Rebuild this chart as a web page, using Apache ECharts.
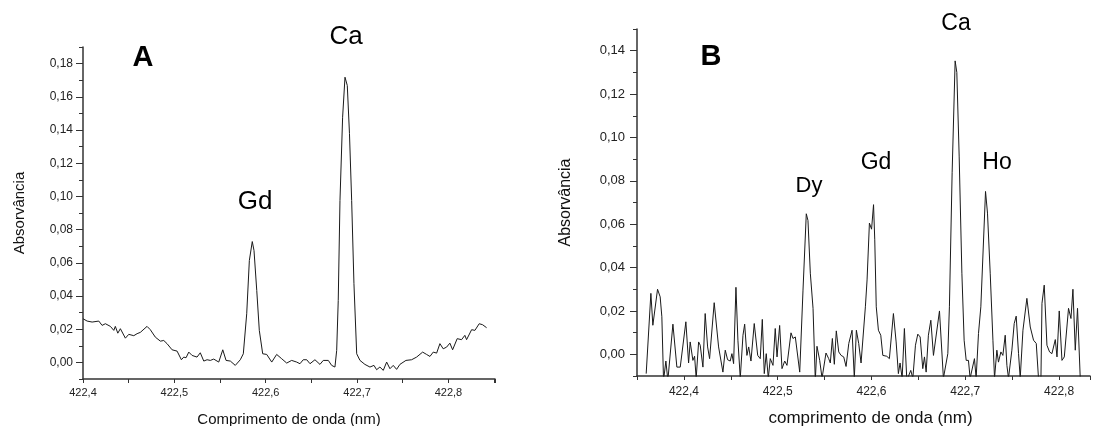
<!DOCTYPE html>
<html>
<head>
<meta charset="utf-8">
<script src="https://cdn.jsdelivr.net/npm/echarts@6/dist/echarts.min.js"></script>
<style>
html,body{margin:0;padding:0;background:#fff;}
#chart{width:1094px;height:426px;}
</style>
</head>
<body>
<div id="chart"></div>
<script>
// ---------- Panel A data ----------
const aWave = [422.400,422.4045,422.410,422.4173,422.4209,422.4245,422.430,422.4337,422.4354,422.4381,422.4409,422.4464,422.4501,422.4556,422.4592,422.4628,422.4647,422.4701,422.4737,422.4792,422.4847,422.4884,422.4920,422.4975,422.5030,422.5077,422.5103,422.5128,422.5158,422.5194,422.5248,422.5284,422.5322,422.5358,422.5394,422.5431,422.5486,422.5530,422.5566,422.5613,422.5667,422.5722,422.5755,422.5792,422.5821,422.5853,422.5872,422.5902,422.5930,422.5967,422.6011,422.6066,422.6120,422.6175,422.6230,422.6284,422.6339,422.6375,422.6411,422.6449,422.6485,422.6539,422.6594,422.6630,422.6685,422.6722,422.6758,422.6777,422.6794,422.6813,422.6842,422.6868,422.6893,422.6917,422.6941,422.6966,422.6996,422.7032,422.7086,422.7141,422.7185,422.7214,422.7250,422.7287,422.7324,422.7360,422.7396,422.7433,422.7469,422.7535,422.7597,422.7652,422.7718,422.7761,422.7798,422.7834,422.7871,422.7907,422.7943,422.7980,422.8016,422.8046,422.8096,422.8144,422.8180,422.8199,422.8254,422.8290,422.8337,422.8374,422.8418];
const aAbs = [0.0263,0.0249,0.0243,0.0249,0.0223,0.0233,0.0217,0.0193,0.0217,0.0176,0.0203,0.0146,0.0169,0.0161,0.0173,0.0181,0.0176,0.0217,0.0197,0.0152,0.0128,0.0132,0.0113,0.0076,0.0068,0.0016,0.0032,0.0028,0.0062,0.0042,0.0032,0.0058,0.0008,0.0016,0.0012,0.0020,0.0002,0.0076,0.0012,0.0008,-0.0018,0.0016,0.0052,0.0293,0.0614,0.0728,0.0674,0.0433,0.0193,0.0052,0.0048,0.0002,0.0048,0.0022,-0.0004,0.0012,0.0002,-0.0008,0.0016,0.0016,-0.0008,0.0016,-0.0012,0.0012,0.0012,-0.0018,-0.0028,0.0072,0.0373,0.0975,0.1477,0.1718,0.1668,0.1378,0.0975,0.0474,0.0052,0.0012,-0.0012,-0.0028,-0.0018,-0.0044,-0.0028,-0.0048,0.0002,-0.0038,-0.0018,-0.0042,-0.0012,0.0012,0.0016,0.0032,0.0062,0.0048,0.0036,0.0062,0.0056,0.0113,0.0082,0.0092,0.0116,0.0076,0.0143,0.0137,0.0163,0.0137,0.0197,0.0193,0.0233,0.0227,0.0209];

// ---------- Panel B data ----------
const bWave = [422.3598,422.3648,422.3669,422.3719,422.3747,422.3765,422.3783,422.3808,422.3829,422.3883,422.3925,422.3961,422.4021,422.4050,422.4067,422.4096,422.4114,422.4131,422.4157,422.4174,422.4203,422.4227,422.4253,422.4274,422.4323,422.4370,422.4416,422.4441,422.4466,422.4494,422.4512,422.4530,422.4555,422.4576,422.4601,422.4630,422.4648,422.4672,422.4691,422.4715,422.4750,422.4765,422.4787,422.4814,422.4836,422.4857,422.4878,422.4900,422.4921,422.4950,422.4974,422.4993,422.5021,422.5046,422.5075,422.5099,422.5142,422.5163,422.5188,422.5235,422.5270,422.5305,422.5323,422.5348,422.5377,422.5401,422.5419,422.5448,422.5473,422.5515,422.5544,422.5561,422.5583,422.5604,422.5625,422.5651,422.5676,422.5704,422.5729,422.5758,422.5793,422.5817,422.5839,422.5864,422.5889,422.5935,422.5953,422.5978,422.6001,422.6022,422.6035,422.6051,422.6074,422.6099,422.6121,422.6163,422.6191,422.6234,422.6263,422.6287,422.6305,422.6327,422.6351,422.6377,422.6419,422.6441,422.6469,422.6494,422.6519,422.6547,422.6565,422.6583,422.6607,422.6633,422.6661,422.6725,422.6767,422.6814,422.6831,422.6860,422.6892,422.6910,422.6935,422.6964,422.6988,422.7010,422.7034,422.7052,422.7098,422.7116,422.7141,422.7166,422.7216,422.7237,422.7266,422.7295,422.7312,422.7337,422.7354,422.7380,422.7401,422.7426,422.7444,422.7461,422.7497,422.7522,422.7543,422.7568,422.7586,422.7615,422.7657,422.7693,422.7728,422.7757,422.7781,422.7807,422.7818,422.7842,422.7871,422.7899,422.7924,422.7960,422.7978,422.8002,422.8031,422.8056,422.8077,422.8101,422.8127,422.8148,422.8173,422.8197,422.8226];
const bAbs = [-0.0089,0.0281,0.0134,0.0300,0.0265,0.0173,-0.012,-0.0031,-0.012,0.0139,-0.0059,-0.0059,0.0150,-0.0040,0.0057,-0.0028,-0.0009,-0.011,0.0057,0.0042,-0.0059,0.0188,0.0034,-0.0020,0.0238,0.0034,-0.0082,0.0019,-0.0025,-0.0031,0.0003,-0.0043,0.0309,0.0065,-0.011,0.0088,0.0139,-0.0005,0.0034,-0.0031,0.0142,0.0150,-0.0005,-0.0020,0.0161,-0.0089,0.0003,-0.011,-0.0020,-0.0051,0.0119,-0.0012,0.0133,-0.0066,-0.0031,-0.0051,0.0099,0.0073,0.0080,-0.0082,0.0296,0.0648,0.0617,0.0374,0.0212,-0.012,0.0037,-0.0028,-0.011,0.0006,-0.0020,-0.0040,0.0073,-0.0046,0.0108,0.0011,-0.0005,-0.0012,-0.0056,0.0050,0.0111,-0.011,0.0111,0.0050,-0.0040,0.0219,0.0343,0.0605,0.0577,0.0690,0.0528,0.0219,0.0111,0.0088,-0.0005,-0.0009,-0.0020,0.0188,0.0057,-0.0089,-0.0040,-0.011,0.0119,-0.012,-0.0074,-0.011,0.0042,0.0093,0.0080,-0.0066,-0.0012,-0.0082,0.0088,0.0157,-0.0005,0.0200,-0.011,0.0003,0.0219,0.0837,0.1353,0.1300,0.0914,0.0374,0.0065,-0.0028,-0.0028,-0.011,-0.0020,-0.011,0.0096,0.0219,0.0751,0.0651,0.0374,0.0065,-0.011,0.0019,-0.0036,0.0011,-0.0005,0.0088,-0.0051,-0.011,0.0019,0.0142,0.0176,0.0003,-0.011,0.0111,0.0258,0.0126,0.0065,0.0050,-0.011,-0.011,0.0235,0.0319,0.0042,0.0011,0.0003,0.0068,-0.0012,0.0200,-0.0028,-0.0012,-0.0009,0.0212,0.0165,0.0300,0.0019,0.0212,-0.011];

// ---------- Tick labels ----------
const yMajorA = [0, 0.02, 0.04, 0.06, 0.08, 0.10, 0.12, 0.14, 0.16, 0.18];
const yMajorB = [0, 0.02, 0.04, 0.06, 0.08, 0.10, 0.12, 0.14];

// ---------- Annotations ----------
const panelLetters = ['A', 'B'];
const peakNamesA = ['Gd', 'Ca'];
const peakNamesB = ['Dy', 'Gd', 'Ca', 'Ho'];

const FONT = '"Liberation Sans", Arial, Helvetica, sans-serif';
const AX = '#333';

function zip(xs, ys){ return xs.map((x,i)=>[x, ys[i]]); }
function fmtX(v){ const k = Math.round(v*100); return (k % 10 === 0) ? (k/100).toFixed(1).replace('.', ',') : ''; }
function fmtY(v){ const k = Math.round(v*100); return (k % 2 === 0 && k >= 0) ? (k/100).toFixed(2).replace('.', ',') : ''; }

function xAxisCfg(grid, min, max, fs, margin, name, nameSize, nameGap, namePad){
  return {
    gridIndex: grid, type: 'value', min: min, max: max, interval: 0.05,
    axisLine: {show: true, onZero: false, lineStyle: {color: AX, width: 1.5}},
    axisTick: {show: true, inside: false, length: 4, lineStyle: {color: AX, width: 1}},
    axisLabel: {formatter: fmtX, fontSize: fs, fontFamily: FONT, color: '#222', margin: margin, showMinLabel: true, showMaxLabel: true},
    splitLine: {show: false},
    name: name, nameLocation: 'middle', nameGap: nameGap,
    nameTextStyle: {fontSize: nameSize, fontFamily: FONT, color: '#111', padding: namePad}
  };
}
function yAxisCfg(grid, min, max, fs, margin, nameSize, nameGap){
  return {
    gridIndex: grid, type: 'value', position: 'left', min: min, max: max, interval: 0.01,
    axisLine: {show: true, onZero: false, lineStyle: {color: AX, width: 1.5}},
    axisTick: {show: true, inside: false, length: 4, lineStyle: {color: AX, width: 1}},
    axisLabel: {formatter: fmtY, fontSize: fs, fontFamily: FONT, color: '#222', margin: margin},
    splitLine: {show: false},
    name: 'Absorvância', nameLocation: 'middle', nameGap: nameGap, nameRotate: 90,
    nameTextStyle: {fontSize: nameSize, fontFamily: FONT, color: '#111'}
  };
}
function yMajorCfg(grid, min, max, vals){
  return {
    gridIndex: grid, type: 'value', position: 'left', offset: 0, min: min, max: max, interval: 0.01,
    axisLine: {show: false},
    axisTick: {show: true, inside: false, length: 7, customValues: vals, lineStyle: {color: AX, width: 1}},
    axisLabel: {show: false},
    splitLine: {show: false}
  };
}

const chart = echarts.init(document.getElementById('chart'), null, {renderer: 'canvas'});
function txt(t, x, y, size, bold){
  return {type: 'text', x: x, y: y, silent: true,
    style: {text: t, fill: '#000', fontSize: size, fontWeight: bold ? 'bold' : 'normal', fontFamily: FONT,
      align: 'center', verticalAlign: 'middle', textAlign: 'center', textVerticalAlign: 'middle'}};
}

chart.setOption({
  backgroundColor: '#ffffff',
  animation: false,
  grid: [
    {left: 83, top: 47, width: 412, height: 332, outerBoundsMode: 'none', containLabel: false},
    {left: 637, top: 29, width: 453, height: 347, outerBoundsMode: 'none', containLabel: false}
  ],
  xAxis: [
    xAxisCfg(0, 422.4, 422.851, 11, 8, 'Comprimento de onda (nm)', 15, 33, [0,0,0,0]),
    xAxisCfg(1, 422.35, 422.833, 12, 10, 'comprimento de onda (nm)', 17, 34, [0,0,0,14])
  ],
  yAxis: [
    yAxisCfg(0, -0.01, 0.19, 12, 10, 15, 56),
    yAxisCfg(1, -0.01, 0.15, 13, 12, 16, 63),
    yMajorCfg(0, -0.01, 0.19, yMajorA),
    yMajorCfg(1, -0.01, 0.15, yMajorB)
  ],
  series: [
    {type: 'line', xAxisIndex: 0, yAxisIndex: 0, data: zip(aWave, aAbs), showSymbol: false, symbol: 'none',
      lineStyle: {color: '#1a1a1a', width: 1}, clip: true},
    {type: 'line', xAxisIndex: 1, yAxisIndex: 1, data: zip(bWave, bAbs), showSymbol: false, symbol: 'none',
      lineStyle: {color: '#1a1a1a', width: 1}, clip: true}
  ],
  graphic: [
    txt(panelLetters[0], 143, 58, 29, true),
    txt(panelLetters[1], 711, 57, 29, true),
    txt(peakNamesA[0], 255, 202, 26, false),
    txt(peakNamesA[1], 346, 37, 26, false),
    txt(peakNamesB[0], 809, 186, 22, false),
    txt(peakNamesB[1], 876, 163, 23, false),
    txt(peakNamesB[2], 956, 24, 23, false),
    txt(peakNamesB[3], 997, 163, 23, false)
  ]
});
</script>
</body>
</html>
